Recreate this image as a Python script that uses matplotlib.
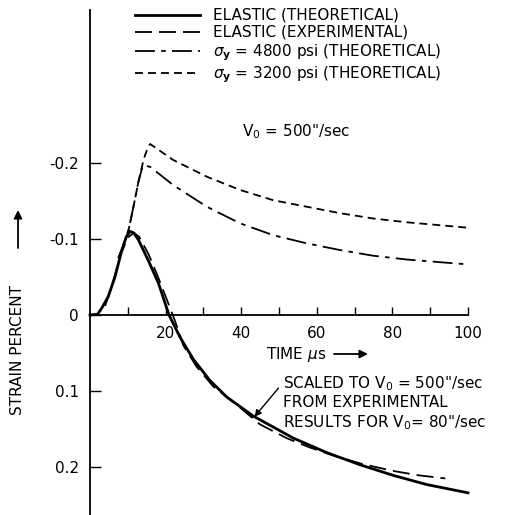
import numpy as np
import matplotlib
matplotlib.use('Agg')
from matplotlib import pyplot as plt

# DATA (time in microseconds, strain in percent; negative = upward)
t_el_theo = [0, 2, 3.1, 4.8, 6.6, 8.4, 9.6, 10.6, 11.6, 12.8, 15.4, 18.1, 20.9,
             23.8, 27.3, 31.7, 36.2, 43.2, 53.8, 62.6, 71.4, 80.2, 89, 100]
s_el_theo = [0, -0.001, -0.009, -0.024, -0.050, -0.085, -0.103, -0.110, -0.108,
             -0.099, -0.072, -0.042, 0, 0.029, 0.058, 0.086, 0.108, 0.133, 0.162,
             0.181, 0.197, 0.211, 0.223, 0.234]

t_el_exp = [4, 6, 8, 10, 11.6, 13, 15.5, 18, 20.5, 22.5, 24.7, 28.2, 32.6, 38.8,
            45, 52, 58, 65, 72, 80, 87, 94]
s_el_exp = [-0.012, -0.042, -0.078, -0.102, -0.108, -0.103, -0.080, -0.050, -0.018,
            0.008, 0.040, 0.068, 0.094, 0.118, 0.144, 0.162, 0.174, 0.186, 0.196,
            0.205, 0.211, 0.215]

t_4800 = [7.5, 9.0, 10.2, 11.4, 12.8, 14.0, 15.9, 22.0, 30.9, 39.7, 48.5, 57.3,
          66.1, 74.9, 83.8, 99.6]
s_4800 = [-0.075, -0.094, -0.112, -0.140, -0.175, -0.197, -0.195, -0.171, -0.1425,
          -0.1206, -0.105, -0.0943, -0.0855, -0.078, -0.073, -0.0667]

t_3200 = [7.5, 9.0, 10.2, 11.4, 12.8, 14.2, 15.2, 15.9, 22.0, 30.9, 39.7, 48.5,
          57.3, 66.1, 74.9, 83.8, 99.6]
s_3200 = [-0.075, -0.094, -0.112, -0.140, -0.175, -0.205, -0.219, -0.225, -0.204,
          -0.182, -0.1645, -0.151, -0.1425, -0.134, -0.127, -0.122, -0.115]

x_major = [20, 40, 60, 80, 100]
x_minor = [10, 30, 50, 70, 90]
y_ticks = [-0.2, -0.1, 0, 0.1, 0.2]
y_labels = ['-0.2', '-0.1', '0', '0.1', '0.2']

labels = ['ELASTIC (THEORETICAL)',
          'ELASTIC (EXPERIMENTAL)',
          r'$\sigma_\mathbf{y}$ = 4800 psi (THEORETICAL)',
          r'$\sigma_\mathbf{y}$ = 3200 psi (THEORETICAL)']

plt.rcParams['font.family'] = ['DejaVu Sans']
plt.rcParams['mathtext.fontset'] = 'dejavusans'
FS = 11

fig = plt.figure(figsize=(5.19, 5.15), dpi=100)
ax = fig.add_axes([0, 0, 1, 1])
ax.patch.set_alpha(0)

# pixel layout: t=0 at x=90px, 3.78 px per us ; s=0 at y=315px, 760 px per unit
ax.set_xlim(-90 / 3.78, (519 - 90) / 3.78)
ax.set_ylim(200 / 760, -315 / 760)

ax.plot(t_el_theo, s_el_theo, color='black', lw=2.0, label=labels[0])
ax.plot(t_el_exp, s_el_exp, color='black', lw=1.3, dashes=(9.4, 3.9), label=labels[1])
ax.plot(t_4800, s_4800, color='black', lw=1.3, dashes=(11, 3.5, 2.5, 3.5), label=labels[2])
ax.plot(t_3200, s_3200, color='black', lw=1.3, dashes=(4.4, 2.8), label=labels[3])

# axes through the origin
for side in ['top', 'right']:
    ax.spines[side].set_visible(False)
ax.spines['left'].set_position(('data', 0))
ax.spines['bottom'].set_position(('data', 0))
ax.spines['left'].set_bounds(200 / 760, -305 / 760)
ax.spines['bottom'].set_bounds(0, 100)
ax.spines['left'].set_linewidth(1.3)
ax.spines['bottom'].set_linewidth(1.3)

ax.set_xticks(x_major)
ax.set_xticks(x_minor, minor=True)
ax.set_yticks(y_ticks)
ax.set_yticklabels(y_labels)
ax.tick_params(axis='x', which='both', direction='in', length=6, width=1, pad=8, labelsize=FS)
ax.tick_params(axis='y', direction='in', length=8, width=1, pad=8, labelsize=FS)

leg = ax.legend(loc='upper left', bbox_to_anchor=(135 / 519, 1 - 8 / 515),
                bbox_transform=fig.transFigure, frameon=False, fontsize=FS,
                borderpad=0, borderaxespad=0, handlelength=4.25,
                handletextpad=0.85, labelspacing=0.13)

ax.text((242 - 90) / 3.78, -(315 - 132) / 760, 'V$_\\mathregular{0}$ = 500"/sec',
        fontsize=FS, ha='left', va='center')

# axis titles with arrows
fig.text(18 / 519, 1 - 350 / 515, 'STRAIN PERCENT', rotation=90, fontsize=FS,
         ha='center', va='center')
ax.annotate('', xy=(18, 515 - 210), xycoords='figure pixels',
            xytext=(18, 515 - 248), textcoords='figure pixels',
            arrowprops=dict(arrowstyle='-|>', color='black', lw=1.3,
                            mutation_scale=12, shrinkA=0, shrinkB=0))
ax.text((266 - 90) / 3.78, (354 - 315) / 760, r'TIME $\mu$s', fontsize=FS,
        ha='left', va='center')
ax.annotate('', xy=(368, 515 - 354), xycoords='figure pixels',
            xytext=(334, 515 - 354), textcoords='figure pixels',
            arrowprops=dict(arrowstyle='-|>', color='black', lw=1.3,
                            mutation_scale=12, shrinkA=0, shrinkB=0))

# note about the experimental curve
ax.annotate('SCALED TO V$_\\mathregular{0}$ = 500"/sec\nFROM EXPERIMENTAL\n'
            'RESULTS FOR V$_\\mathregular{0}$= 80"/sec',
            xy=(43.5, 0.134), xytext=((283 - 90) / 3.78, (374 - 315) / 760),
            fontsize=FS, ha='left', va='top', linespacing=1.2,
            arrowprops=dict(arrowstyle='-|>', color='black', lw=1,
                            mutation_scale=10, shrinkA=2, shrinkB=0,
                            relpos=(0.0, 0.85)))

fig.savefig('out.png', dpi=100, facecolor='white')
